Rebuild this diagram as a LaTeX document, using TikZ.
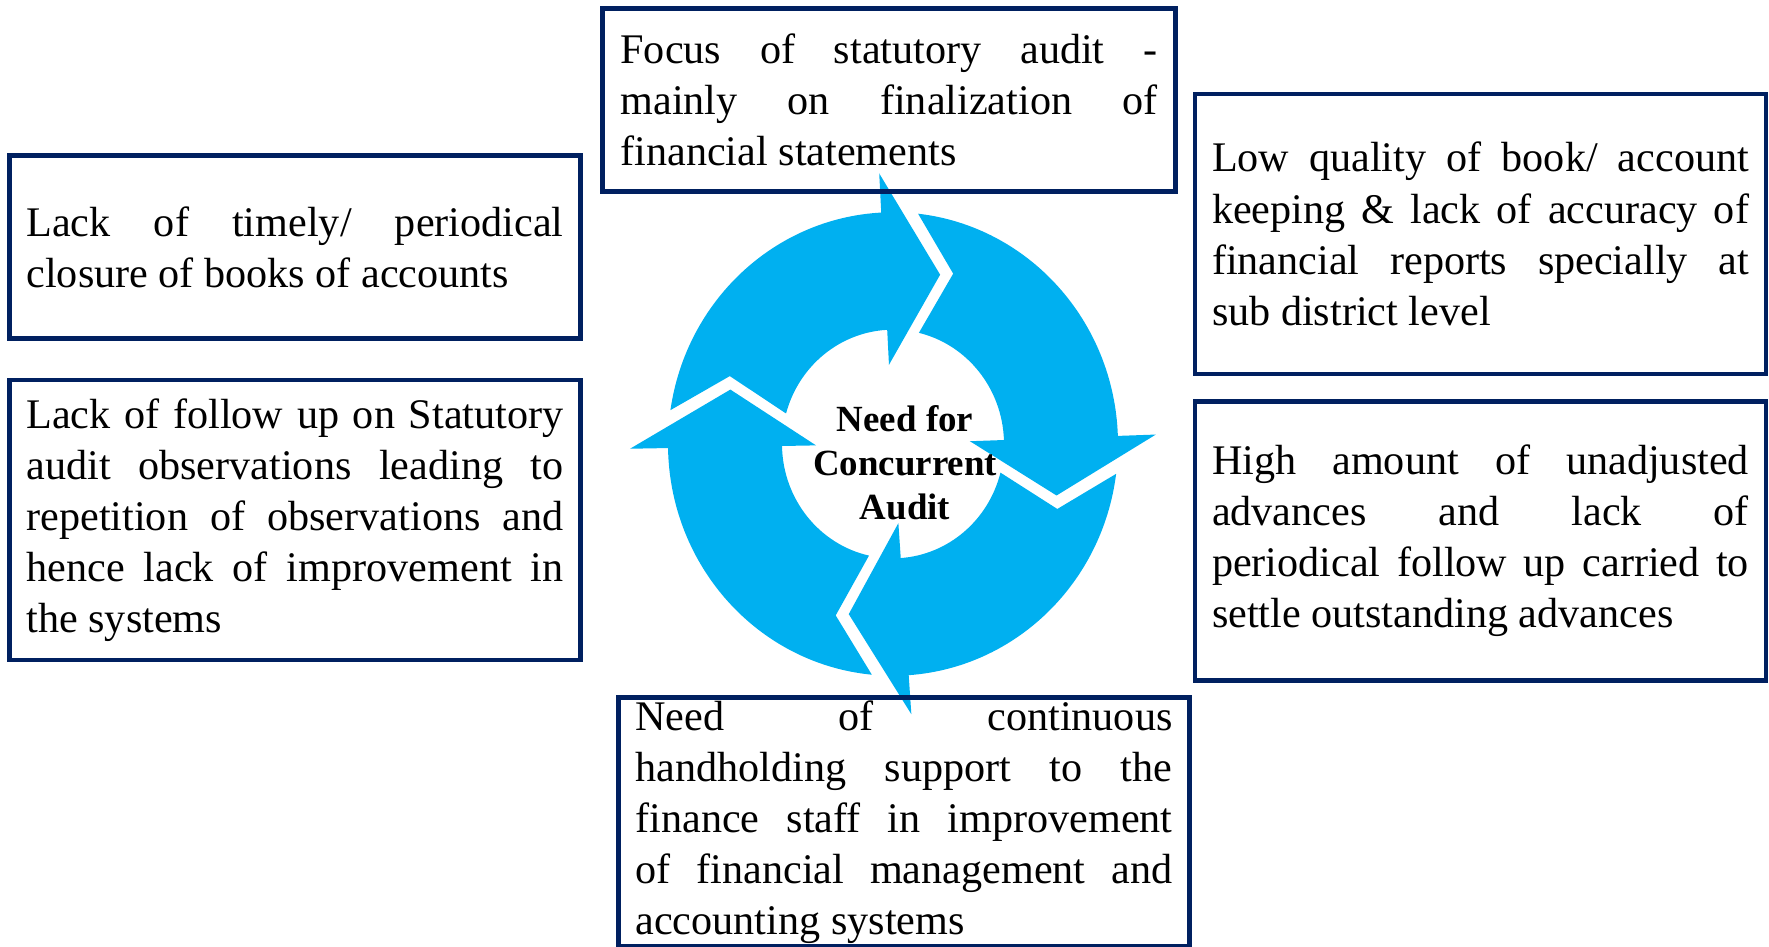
\documentclass[tikz,border=0pt]{standalone}
\usepackage{fontspec}
\setmainfont{Liberation Serif}
\usetikzlibrary{positioning}
\definecolor{bordeaudit}{RGB}{0,32,96}
\definecolor{cyancycle}{RGB}{0,176,240}

\begin{document}
\begin{tikzpicture}[
    issue/.style={
        draw=bordeaudit,
        line width=1.4pt,
        text width=5.37cm,
        inner xsep=0.17cm,
        align=justify,
        font=\fontsize{12}{14.55}\selectfont,
        execute at begin node={\tolerance=9999\hbadness=10000\hyphenpenalty=10000}
    },
    ring/.style={fill=cyancycle},
    hub/.style={
        align=center,
        inner sep=0pt,
        font=\fontsize{10.5}{12.5}\selectfont\bfseries
    }
]
\useasboundingbox (0,0) rectangle (17.69,9.46);

% === Cycle of four curved arrows ===
\begin{scope}[shift={(8.93,5.02)}, yscale=1.03]
\foreach \a/\b in {93/181, 2/93, -86/2, -179/-86}
    \fill[ring] (\b-9.4:2.25) arc[start angle=\b-9.4, end angle=\a, radius=2.25]
        -- (\a:2.63) -- (\a-19:1.71) -- (\a:0.77) -- (\a:1.11)
        arc[start angle=\a, end angle=\b-16.5, radius=1.11]
        -- (\b-23:1.76) -- cycle;
\end{scope}

\node[hub] (hub) at (9.05, 4.83) {Need for\\Concurrent\\Audit};

% === Boxes around the cycle ===
\node[issue, minimum width=5.73cm, minimum height=1.83cm] (focus) at (8.89, 8.46)
{Focus of statutory audit -\linebreak mainly on finalization of\linebreak financial statements};

\node[issue, minimum width=5.71cm, minimum height=1.83cm] (closure) at (2.95, 6.99)
{Lack of timely/ periodical\linebreak closure of books of accounts};

\node[issue, minimum width=5.71cm, minimum height=2.80cm] (followup) at (2.95, 4.26)
{Lack of follow up on Statutory\linebreak audit observations leading to\linebreak repetition of observations and\linebreak hence lack of improvement in\linebreak the systems};

\node[issue, minimum width=5.68cm, minimum height=2.80cm] (quality) at (14.805, 7.12)
{Low quality of book/ account\linebreak keeping \& lack of accuracy of\linebreak financial reports specially at\linebreak sub district level};

\node[issue, minimum width=5.68cm, minimum height=2.79cm] (advances) at (14.805, 4.05)
{High amount of unadjusted\linebreak advances and lack of\linebreak periodical follow up carried to\linebreak settle outstanding advances};

% runs past the lower edge of the page
\node[issue, anchor=north, inner ysep=0.03cm, minimum width=5.71cm] (support) at (9.04, 2.51)
{Need of continuous\linebreak handholding support to the\linebreak finance staff in improvement\linebreak of financial management and\linebreak accounting systems};

\end{tikzpicture}
\end{document}
